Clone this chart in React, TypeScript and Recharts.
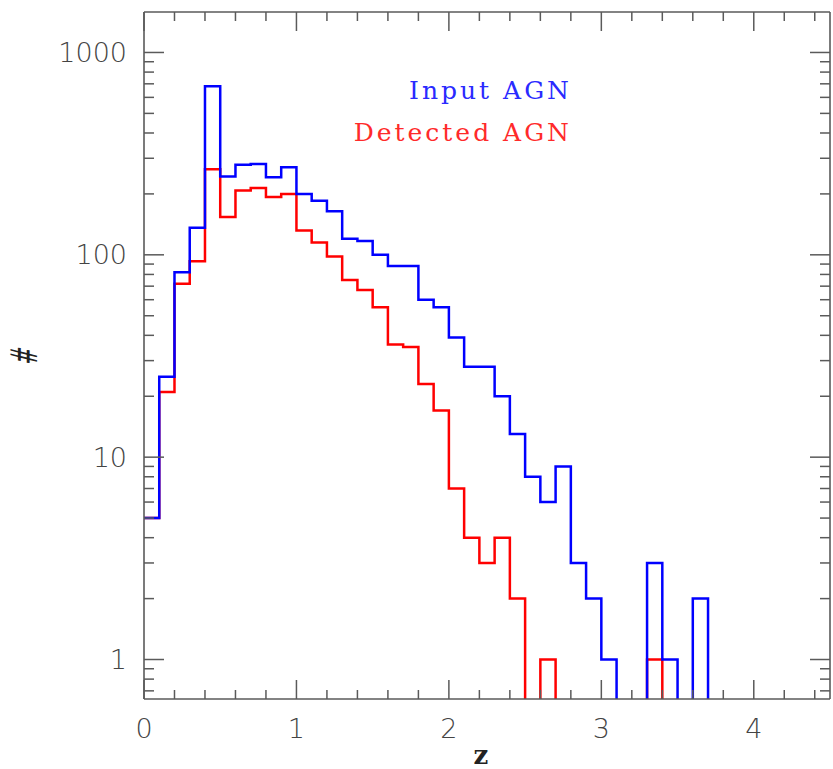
import React from 'react';
import { LineChart, Line, XAxis, YAxis } from 'recharts';

// bin left edges (bin width 0.1)
const zBins = [0, 0.1, 0.2, 0.3, 0.4, 0.5, 0.6, 0.7, 0.8, 0.9, 1.0, 1.1, 1.2, 1.3, 1.4, 1.5, 1.6, 1.7, 1.8, 1.9,
  2.0, 2.1, 2.2, 2.3, 2.4, 2.5, 2.6, 2.7, 2.8, 2.9, 3.0, 3.1, 3.2, 3.3, 3.4, 3.5, 3.6, 3.7];
const inputCounts = [5, 25, 82, 136, 680, 244, 279, 281, 242, 271, 200, 185, 164, 120, 117, 100, 88, 88, 60, 55,
  39, 28, 28, 20, 13, 8, 6, 9, 3, 2, 1, 0, 0, 3, 1, 0, 2, 0];
const detectedCounts = [5, 21, 72, 93, 265, 154, 208, 214, 193, 200, 132, 115, 98, 75, 67, 55, 36, 35, 23, 17,
  7, 4, 3, 4, 2, 0, 1, 0, 0, 0, 0, 0, 0, 1, 0, 0, 0, 0];

const xTicks = [0, 0.2, 0.4, 0.6, 0.8, 1, 1.2, 1.4, 1.6, 1.8, 2, 2.2, 2.4, 2.6, 2.8, 3, 3.2, 3.4, 3.6, 3.8, 4, 4.2, 4.4];
const xMajorTicks = [0, 1, 2, 3, 4];
const xTickLabels = ['0', '1', '2', '3', '4'];
const yTicks = [0.7, 0.8, 0.9, 1, 2, 3, 4, 5, 6, 7, 8, 9, 10, 20, 30, 40, 50, 60, 70, 80, 90,
  100, 200, 300, 400, 500, 600, 700, 800, 900, 1000];
const yMajorTicks = [1, 10, 100, 1000];
const yTickLabels = ['1', '10', '100', '1000'];
const xDomain = [0, 4.5];
const yDomain = [0.638, 1585];
const seriesNames = ['Input AGN', 'Detected AGN'];
const xTitle = 'z';
const yTitle = '#';

const FLOOR = 0.05; // empty bins fall below the axis
const data = zBins.map((z, i) => ({
  z,
  input: inputCounts[i] > 0 ? inputCounts[i] : FLOOR,
  detected: detectedCounts[i] > 0 ? detectedCounts[i] : FLOOR,
}));

const AXIS = '#5a5a5a';
const TXT = '#444';
const TICK_FONT = "'DejaVu Sans', sans-serif";

const isMajor = (arr: number[], v: number) => arr.some((m) => Math.abs(m - v) < 1e-9);
const labelOf = (arr: number[], labels: string[], v: number) => labels[arr.findIndex((m) => Math.abs(m - v) < 1e-9)];

const LeftTick = (p: any) => {
  const { x, y, payload } = p;
  const major = isMajor(yMajorTicks, payload.value);
  return (
    <g>
      <line x1={x} y1={y} x2={x + (major ? 20 : 10)} y2={y} stroke={AXIS} strokeWidth={1.5} />
      {major && (
        <text x={x - 17} y={y} textAnchor="end" dominantBaseline="central" fontFamily={TICK_FONT}
          fontSize={27} fontWeight={200} fill={TXT}>
          {labelOf(yMajorTicks, yTickLabels, payload.value)}
        </text>
      )}
    </g>
  );
};

const RightTick = (p: any) => {
  const { x, y, payload } = p;
  const major = isMajor(yMajorTicks, payload.value);
  return <line x1={x} y1={y} x2={x - (major ? 20 : 10)} y2={y} stroke={AXIS} strokeWidth={1.5} />;
};

const BottomTick = (p: any) => {
  const { x, y, payload } = p;
  const major = isMajor(xMajorTicks, payload.value);
  return (
    <g>
      <line x1={x} y1={y} x2={x} y2={y - (major ? 19 : 9)} stroke={AXIS} strokeWidth={1.5} />
      {major && (
        <text x={x} y={y + 29} textAnchor="middle" dominantBaseline="central" fontFamily={TICK_FONT}
          fontSize={27} fontWeight={200} fill={TXT}>
          {labelOf(xMajorTicks, xTickLabels, payload.value)}
        </text>
      )}
    </g>
  );
};

const TopTick = (p: any) => {
  const { x, y, payload } = p;
  const major = isMajor(xMajorTicks, payload.value);
  return <line x1={x} y1={y} x2={x} y2={y + (major ? 19 : 9)} stroke={AXIS} strokeWidth={1.5} />;
};

const XTitle = (p: any) => {
  const vb = p.viewBox || {};
  return (
    <text x={vb.x + vb.width / 2 - 6} y={vb.y + 65} textAnchor="middle"
      fontFamily="'DejaVu Serif', serif" fontWeight="bold" fontSize={26} fill="#222">
      {xTitle}
    </text>
  );
};

const YTitle = (p: any) => {
  const vb = p.viewBox || {};
  const cx = 24;
  const cy = vb.y + vb.height / 2;
  return (
    <text x={0} y={0} textAnchor="middle" dominantBaseline="central"
      transform={`translate(${cx} ${cy}) rotate(-90) scale(0.55 1) skewX(-12)`}
      fontFamily={TICK_FONT} fontSize={37} fill="#222">
      {yTitle}
    </text>
  );
};

export default function App() {
  return (
    <div style={{ position: 'absolute', left: 0, top: 0, width: 833, height: 769, background: '#fff' }}>
      <LineChart width={833} height={769} data={data} margin={{ top: 11, right: 2, bottom: 0, left: 0 }}>
        <XAxis xAxisId="b" dataKey="z" type="number" domain={xDomain} allowDataOverflow ticks={xTicks}
          interval={0} tickSize={0} tickMargin={0} tickLine={false} height={70}
          axisLine={{ stroke: AXIS, strokeWidth: 1.6 }} tick={(p: any) => <BottomTick {...p} />}
          label={(p: any) => <XTitle {...p} />} />
        <XAxis xAxisId="t" orientation="top" dataKey="z" type="number" domain={xDomain} allowDataOverflow
          ticks={xTicks} interval={0} tickSize={0} tickMargin={0} tickLine={false} height={1}
          axisLine={{ stroke: AXIS, strokeWidth: 1.6 }} tick={(p: any) => <TopTick {...p} />} />
        <YAxis yAxisId="l" scale="log" domain={yDomain} allowDataOverflow ticks={yTicks} interval={0}
          tickSize={0} tickMargin={0} tickLine={false} width={144}
          axisLine={{ stroke: AXIS, strokeWidth: 1.6 }} tick={(p: any) => <LeftTick {...p} />}
          label={(p: any) => <YTitle {...p} />} />
        <YAxis yAxisId="r" orientation="right" scale="log" domain={yDomain} allowDataOverflow ticks={yTicks}
          interval={0} tickSize={0} tickMargin={0} tickLine={false} width={1}
          axisLine={{ stroke: AXIS, strokeWidth: 1.6 }} tick={(p: any) => <RightTick {...p} />} />
        <Line xAxisId="b" yAxisId="l" type="stepAfter" dataKey="detected" name={seriesNames[1]} stroke="#ff0000"
          strokeWidth={2.5} dot={false} activeDot={false} isAnimationActive={false} />
        <Line xAxisId="b" yAxisId="l" type="stepAfter" dataKey="input" name={seriesNames[0]} stroke="#0000ff"
          strokeWidth={2.5} dot={false} activeDot={false} isAnimationActive={false} />
      </LineChart>
      <svg width={833} height={769} style={{ position: 'absolute', left: 0, top: 0, pointerEvents: 'none' }}>
        <text x={572} y={99} textAnchor="end" fontFamily="'DejaVu Serif', serif" fontSize={25} letterSpacing={3}
          fill="#2a2aff">
          {seriesNames[0]}
        </text>
        <text x={572} y={141} textAnchor="end" fontFamily="'DejaVu Serif', serif" fontSize={25} letterSpacing={3}
          fill="#ff2a2a">
          {seriesNames[1]}
        </text>
      </svg>
    </div>
  );
}
